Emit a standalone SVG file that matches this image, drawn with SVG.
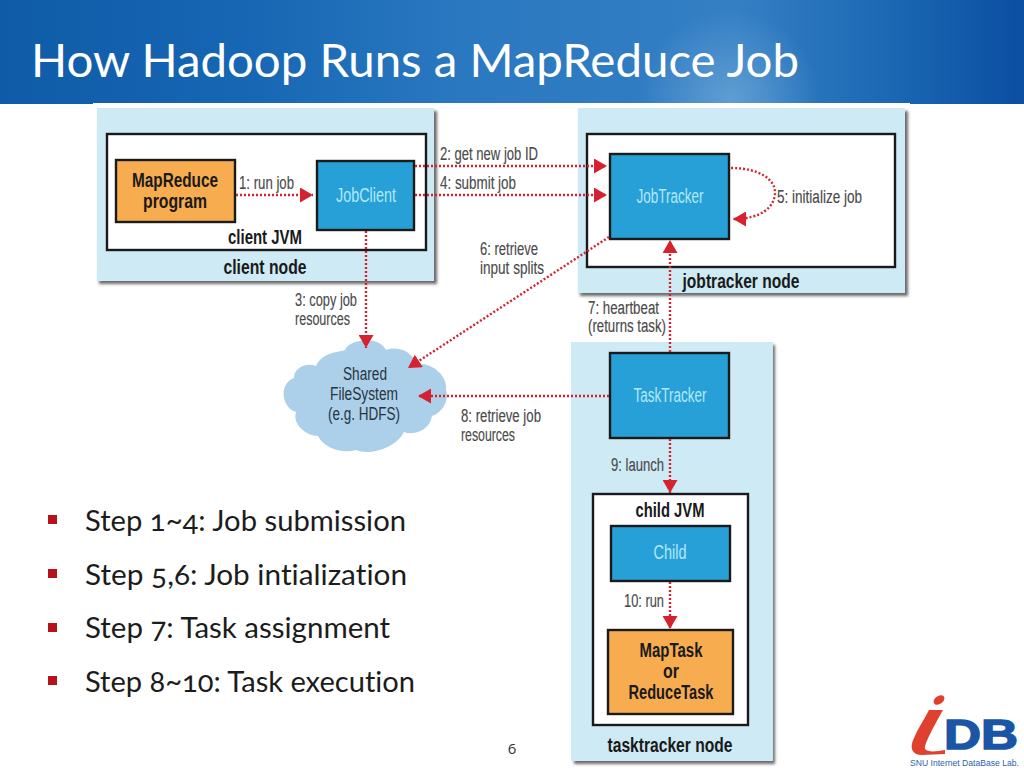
<svg xmlns="http://www.w3.org/2000/svg" width="1024" height="768" viewBox="0 0 1024 768">
<style>
.cond{font-family:"Liberation Sans","Open Sans",sans-serif}
.lab{font-size:18px;fill:#4a4a4a;stroke:#4a4a4a;stroke-width:.15}
.bold{font-size:20px;font-weight:700;fill:#1a1a1a}
.nm{font-size:20px;fill:#b4e8f8;text-anchor:middle}
.cl{font-size:17.5px;fill:#26343e;text-anchor:middle}
.box{stroke:#1a1a1a;stroke-width:2.4}
.blue{fill:#27a0d8}
.org{fill:#f8ac50}
.wh{fill:#fff}
.nodebg{fill:#cdeaf5}
.sh{fill:#6b6b6b;filter:url(#b)}
.con{fill:none;stroke:#d4232f;stroke-width:2.4;stroke-dasharray:2 2}
.bul{font-family:Lato,"Open Sans",sans-serif;font-size:29px;fill:#1c1c1c;font-variant-ligatures:none;font-feature-settings:"onum","liga" 0}
.sq{fill:#b5121b}
</style>
<defs>
<linearGradient id="hdr" x1="0" y1="0" x2="1" y2="0">
<stop offset="0" stop-color="#0f5ba8"/><stop offset=".25" stop-color="#1767b4"/><stop offset=".45" stop-color="#2a78c0"/><stop offset=".72" stop-color="#347fc4"/><stop offset=".88" stop-color="#1a66b2"/><stop offset="1" stop-color="#0b4ea2"/>
</linearGradient>
<radialGradient id="glow" cx="730" cy="100" r="90" gradientUnits="userSpaceOnUse">
<stop offset="0" stop-color="#6aa5d6" stop-opacity=".8"/><stop offset="1" stop-color="#6aa5d6" stop-opacity="0"/>
</radialGradient>
<filter id="b" x="-10%" y="-10%" width="120%" height="120%"><feGaussianBlur stdDeviation="1.6"/></filter>
<marker id="ah" viewBox="0 0 13 15" refX="13" refY="7.5" markerWidth="13" markerHeight="15" markerUnits="userSpaceOnUse" orient="auto">
<path d="M0 0L13 7.5L0 15Z" fill="#d4232f"/>
</marker>
</defs>

<rect width="1024" height="768" fill="#fff"/>
<g id="header">
<rect width="1024" height="104" fill="url(#hdr)"/>
<rect x="600" y="0" width="260" height="104" fill="url(#glow)"/>
<rect x="93" y="103" width="817" height="2" fill="#fff"/>
<text x="31" y="77" font-family="Lato,'Open Sans',sans-serif" font-size="47" fill="#fff" textLength="768" lengthAdjust="spacingAndGlyphs">How Hadoop Runs a MapReduce Job</text>
</g>

<g id="client-node">
<rect class="sh" x="99" y="111" width="338" height="173"/>
<rect class="nodebg" x="97" y="108" width="337" height="173"/>
<rect class="wh box" x="107" y="134" width="319" height="116"/>
<text class="cond bold" x="265" y="244" text-anchor="middle" textLength="74" lengthAdjust="spacingAndGlyphs">client JVM</text>
<text class="cond bold" x="265" y="274" text-anchor="middle" textLength="83" lengthAdjust="spacingAndGlyphs">client node</text>
</g>
<g id="mapreduce-program">
<rect class="org box" x="116" y="160" width="119" height="62"/>
<text class="cond bold" x="175" y="187" text-anchor="middle" textLength="86" lengthAdjust="spacingAndGlyphs">MapReduce</text>
<text class="cond bold" x="175" y="208" text-anchor="middle" textLength="64" lengthAdjust="spacingAndGlyphs">program</text>
</g>
<g id="jobclient">
<rect class="blue box" x="317" y="161" width="97" height="69"/>
<text class="cond nm" x="366" y="202" textLength="60" lengthAdjust="spacingAndGlyphs">JobClient</text>
</g>

<g id="jobtracker-node">
<rect class="sh" x="580" y="111" width="328" height="185"/>
<rect class="nodebg" x="578" y="108" width="327" height="185"/>
<rect class="wh box" x="587" y="134" width="308" height="133"/>
<text class="cond bold" x="741" y="288" text-anchor="middle" textLength="117" lengthAdjust="spacingAndGlyphs">jobtracker node</text>
</g>
<g id="jobtracker">
<rect class="blue box" x="610" y="154" width="119" height="85"/>
<text class="cond nm" x="670" y="203" textLength="67" lengthAdjust="spacingAndGlyphs">JobTracker</text>
</g>

<g id="tasktracker-node">
<rect class="sh" x="574" y="345" width="201" height="419"/>
<rect class="nodebg" x="571" y="342" width="202" height="419"/>
<rect class="wh box" x="593" y="494" width="155" height="231"/>
<text class="cond bold" x="670" y="517" text-anchor="middle" textLength="69" lengthAdjust="spacingAndGlyphs">child JVM</text>
<text class="cond bold" x="670" y="752" text-anchor="middle" textLength="125" lengthAdjust="spacingAndGlyphs">tasktracker node</text>
</g>
<g id="tasktracker">
<rect class="blue box" x="610" y="353" width="119" height="85"/>
<text class="cond nm" x="670" y="402" textLength="73" lengthAdjust="spacingAndGlyphs">TaskTracker</text>
</g>
<g id="child">
<rect class="blue box" x="611" y="526" width="119" height="55"/>
<text class="cond nm" x="670" y="559" textLength="33" lengthAdjust="spacingAndGlyphs">Child</text>
</g>
<g id="maptask">
<rect class="org box" x="608" y="630" width="125" height="84"/>
<text class="cond bold" x="671" y="657" text-anchor="middle" textLength="63" lengthAdjust="spacingAndGlyphs">MapTask</text>
<text class="cond bold" x="671" y="678" text-anchor="middle" textLength="16" lengthAdjust="spacingAndGlyphs">or</text>
<text class="cond bold" x="671" y="699" text-anchor="middle" textLength="85" lengthAdjust="spacingAndGlyphs">ReduceTask</text>
</g>

<g id="shared-filesystem">
<path d="M316 366C322 352 340 352 345 350C350 338 380 336 386 350C396 346 412 350 416 364C432 362 448 376 446 390C450 402 440 414 432 416C430 430 414 436 404 432C396 448 370 456 356 450C342 454 324 448 318 436C306 436 292 424 296 412C282 408 278 384 294 378C294 368 306 362 316 366Z" fill="#acd0e9"/>
<text class="cond cl" x="365" y="380" textLength="44" lengthAdjust="spacingAndGlyphs">Shared</text>
<text class="cond cl" x="364" y="400" textLength="68" lengthAdjust="spacingAndGlyphs">FileSystem</text>
<text class="cond cl" x="364" y="420" textLength="72" lengthAdjust="spacingAndGlyphs">(e.g. HDFS)</text>
</g>

<g id="connectors">
<line class="con" x1="236" y1="195" x2="313" y2="195" marker-end="url(#ah)"/>
<line class="con" x1="415" y1="166" x2="607" y2="166" marker-end="url(#ah)"/>
<line class="con" x1="415" y1="195" x2="607" y2="195" marker-end="url(#ah)"/>
<line class="con" x1="366" y1="231" x2="366" y2="348" marker-end="url(#ah)"/>
<path class="con" d="M731 168C760 168 775 180 775 192C775 208 760 219 733 219" marker-end="url(#ah)"/>
<line class="con" x1="609" y1="237" x2="408" y2="368" marker-end="url(#ah)"/>
<line class="con" x1="670" y1="352" x2="670" y2="240" marker-end="url(#ah)"/>
<line class="con" x1="609" y1="396" x2="418" y2="396" marker-end="url(#ah)"/>
<line class="con" x1="670" y1="439" x2="670" y2="493" marker-end="url(#ah)"/>
<line class="con" x1="670" y1="582" x2="670" y2="629" marker-end="url(#ah)"/>
</g>

<g id="connector-labels" class="cond">
<text class="lab" x="239" y="189" textLength="55" lengthAdjust="spacingAndGlyphs">1: run job</text>
<text class="lab" x="440" y="160" textLength="98" lengthAdjust="spacingAndGlyphs">2: get new job ID</text>
<text class="lab" x="440" y="189" textLength="76" lengthAdjust="spacingAndGlyphs">4: submit job</text>
<text class="lab" x="295" y="306" textLength="62" lengthAdjust="spacingAndGlyphs">3: copy job</text>
<text class="lab" x="295" y="325" textLength="55" lengthAdjust="spacingAndGlyphs">resources</text>
<text class="lab" x="480" y="255" textLength="58" lengthAdjust="spacingAndGlyphs">6: retrieve</text>
<text class="lab" x="480" y="274" textLength="64" lengthAdjust="spacingAndGlyphs">input splits</text>
<text class="lab" x="777" y="203" textLength="85" lengthAdjust="spacingAndGlyphs">5: initialize job</text>
<text class="lab" x="588" y="314" textLength="71" lengthAdjust="spacingAndGlyphs">7: heartbeat</text>
<text class="lab" x="588" y="332" textLength="78" lengthAdjust="spacingAndGlyphs">(returns task)</text>
<text class="lab" x="461" y="422" textLength="80" lengthAdjust="spacingAndGlyphs">8: retrieve job</text>
<text class="lab" x="461" y="441" textLength="54" lengthAdjust="spacingAndGlyphs">resources</text>
<text class="lab" x="611" y="471" textLength="53" lengthAdjust="spacingAndGlyphs">9: launch</text>
<text class="lab" x="624" y="607" textLength="40" lengthAdjust="spacingAndGlyphs">10: run</text>
</g>

<g id="bullets">
<rect class="sq" x="48" y="515" width="9" height="9"/>
<text class="bul" x="85" y="531" textLength="321" lengthAdjust="spacingAndGlyphs">Step 1~4: Job submission</text>
<rect class="sq" x="48" y="569" width="9" height="9"/>
<text class="bul" x="85" y="585" textLength="322" lengthAdjust="spacingAndGlyphs">Step 5,6: Job intialization</text>
<rect class="sq" x="48" y="623" width="9" height="9"/>
<text class="bul" x="85" y="638" textLength="305" lengthAdjust="spacingAndGlyphs">Step 7: Task assignment</text>
<rect class="sq" x="48" y="676" width="9" height="9"/>
<text class="bul" x="85" y="692" textLength="330" lengthAdjust="spacingAndGlyphs">Step 8~10: Task execution</text>
</g>

<text id="page-number" x="512" y="754" text-anchor="middle" font-family="'Open Sans',sans-serif" font-size="15" fill="#333">6</text>

<g id="logo">
<text x="944" y="749" font-family="'Liberation Sans',sans-serif" font-weight="700" font-size="42" fill="#1b56a6" stroke="#1b56a6" stroke-width="1.5" textLength="74" lengthAdjust="spacingAndGlyphs">DB</text>
<path d="M929 710L943 710C934 726 924 744 925 749C927 752 935 752 945 750L945 754L922 755C912 755 909 748 914 738C918 728 924 720 929 710Z" fill="#e0402e"/>
<ellipse cx="939" cy="700" rx="6" ry="4" fill="#e0402e" transform="rotate(-35 939 700)"/>
<text x="910" y="766" font-family="'Liberation Sans',sans-serif" font-size="8.5" fill="#2b62ad" textLength="109" lengthAdjust="spacingAndGlyphs">SNU Internet DataBase Lab.</text>
</g>
</svg>
